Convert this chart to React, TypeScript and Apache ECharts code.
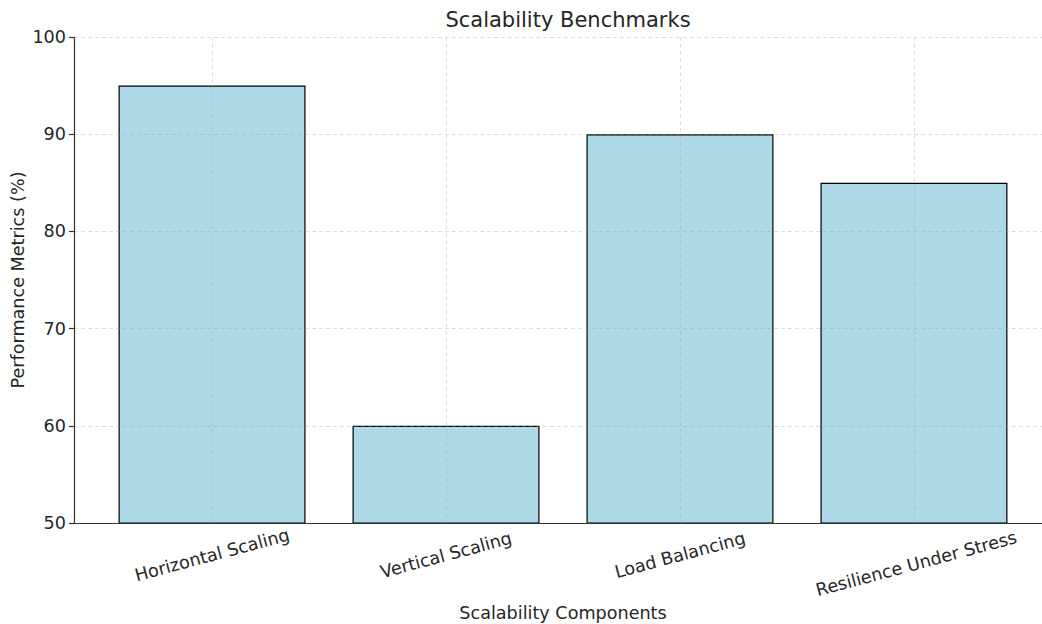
import React, { useEffect, useRef } from "react";
import * as echarts from "echarts";

const categories: string[] = [
  "Horizontal Scaling",
  "Vertical Scaling",
  "Load Balancing",
  "Resilience Under Stress",
];
const performance: number[] = [95, 60, 90, 85];
const yTicks: number[] = [50, 60, 70, 80, 90, 100];

const FONT = "DejaVu Sans";
const TEXT = "#262626";
const FS = 17.6;

export default function App() {
  const ref = useRef<HTMLDivElement>(null);
  useEffect(() => {
    document.body.style.margin = "0";
    if (!ref.current) return;
    const chart = echarts.init(ref.current, undefined, { renderer: "svg" });
    const positions = categories.map((_, i) => i);
    chart.setOption({
      animation: false,
      backgroundColor: "#ffffff",
      textStyle: { fontFamily: FONT },
      title: {
        text: "Scalability Benchmarks",
        left: 563,
        top: 4,
        textAlign: "center",
        textStyle: { fontFamily: FONT, fontSize: 21, fontWeight: "normal", color: TEXT },
      },
      grid: {
        left: 74,
        right: -10,
        top: 37,
        bottom: 101,
        containLabel: false,
        outerBoundsMode: "none",
      },
      xAxis: {
        type: "value",
        min: -0.59,
        max: 3.59,
        z: 3,
        name: "Scalability Components",
        nameLocation: "middle",
        nameGap: 81,
        nameMoveOverlap: false,
        nameTextStyle: { fontFamily: FONT, fontSize: FS, color: TEXT },
        axisLine: { show: true, onZero: false, lineStyle: { color: "#333", width: 1.2 } },
        axisTick: { show: false, customValues: positions },
        axisLabel: {
          customValues: positions,
          rotate: 15,
          align: "center",
          verticalAlign: "middle",
          margin: 32,
          fontFamily: FONT,
          fontSize: FS,
          color: TEXT,
          formatter: (v: number) => {
            const idx = Math.round(v);
            const name = categories[idx] ?? "";
            return idx === 3 ? "{b|" + name + "}" : "{a|" + name + "}";
          },
          rich: {
            a: { fontFamily: FONT, fontSize: FS, color: TEXT },
            b: { fontFamily: FONT, fontSize: FS, color: TEXT, padding: [18, 0, 0, 0] },
          },
        },
        splitLine: {
          show: true,
          lineStyle: { color: "rgba(150,150,150,0.3)", type: [4, 3], width: 1 },
        },
      },
      yAxis: {
        type: "value",
        min: yTicks[0],
        max: yTicks[yTicks.length - 1],
        interval: 10,
        z: 3,
        name: "Performance Metrics (%)",
        nameLocation: "middle",
        nameGap: 47,
        nameMoveOverlap: false,
        nameTextStyle: { fontFamily: FONT, fontSize: FS, color: TEXT },
        axisLine: { show: true, onZero: false, lineStyle: { color: "#333", width: 1.2 } },
        axisTick: { show: true, length: 5, lineStyle: { color: "#333", width: 1.2 } },
        axisLabel: { margin: 8, fontFamily: FONT, fontSize: FS, color: TEXT },
        splitLine: {
          show: true,
          lineStyle: { color: "rgba(150,150,150,0.3)", type: [4, 3], width: 1 },
        },
      },
      series: [
        {
          type: "bar",
          data: performance.map((v, i) => [positions[i], v]),
          barWidth: 187,
          itemStyle: { color: "#add8e6", borderColor: "#000000", borderWidth: 1.2 },
        },
      ],
    });
    return () => chart.dispose();
  }, []);
  return <div ref={ref} style={{ width: 1042, height: 624 }} />;
}
